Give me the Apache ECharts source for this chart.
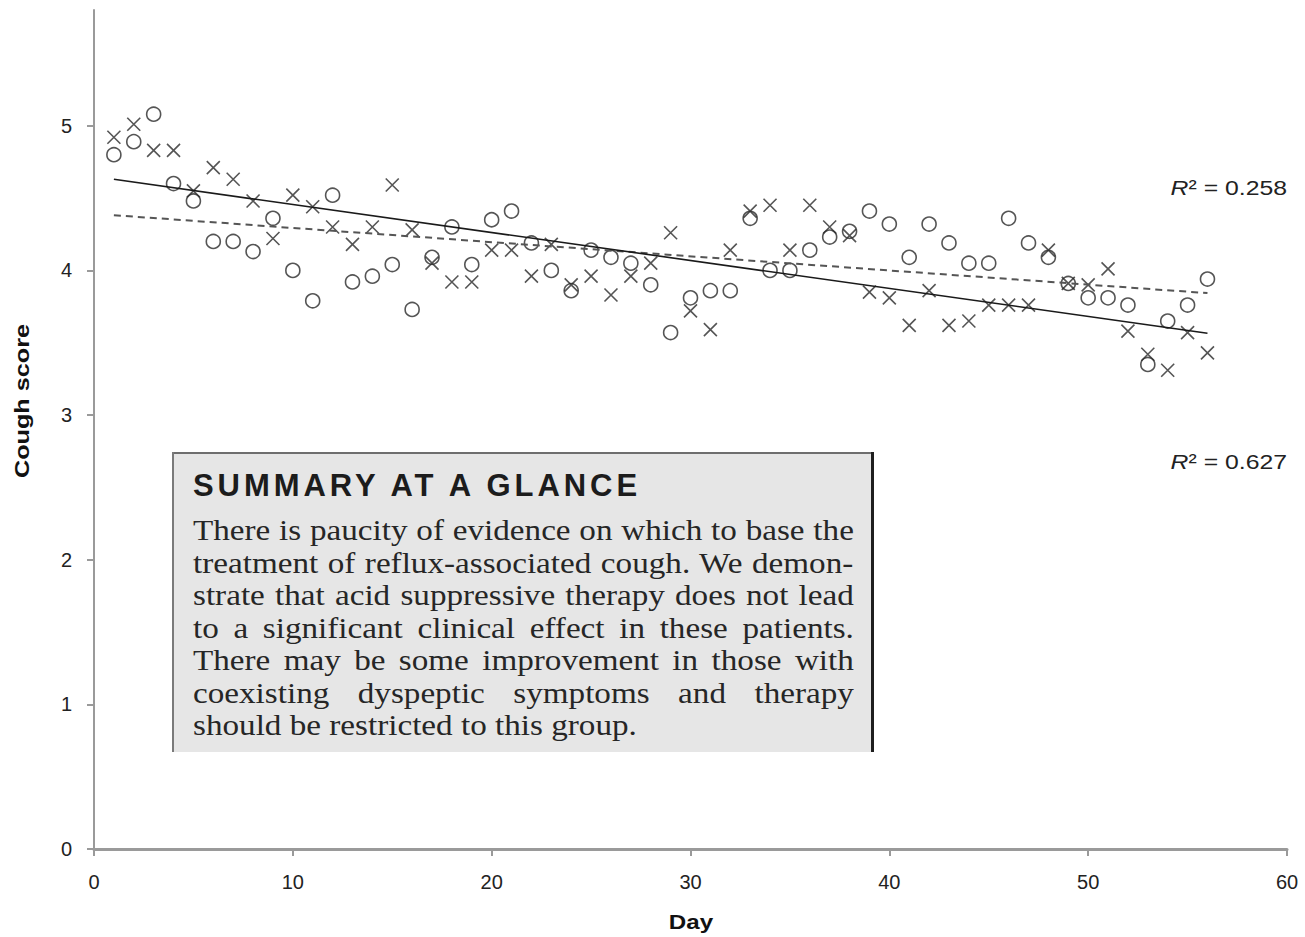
<!DOCTYPE html>
<html>
<head>
<meta charset="utf-8">
<title>Cough score by day</title>
<script src="https://cdn.jsdelivr.net/npm/echarts@6/dist/echarts.min.js"></script>
<style>
  html, body { margin: 0; padding: 0; background: #ffffff; }
  #chart { width: 1305px; height: 937px; }
</style>
</head>
<body>
<div id="chart"></div>
<script>
// Study days
const days = [1, 2, 3, 4, 5, 6, 7, 8, 9, 10, 11, 12, 13, 14, 15, 16, 17, 18, 19, 20,
  21, 22, 23, 24, 25, 26, 27, 28, 29, 30, 31, 32, 33, 34, 35, 36, 37, 38, 39, 40,
  41, 42, 43, 44, 45, 46, 47, 48, 49, 50, 51, 52, 53, 54, 55, 56];

// Mean daily cough score, group plotted with open circles
const scoreCircles = [4.80, 4.89, 5.08, 4.60, 4.48, 4.20, 4.20, 4.13, 4.36, 4.00,
  3.79, 4.52, 3.92, 3.96, 4.04, 3.73, 4.09, 4.30, 4.04, 4.35,
  4.41, 4.19, 4.00, 3.86, 4.14, 4.09, 4.05, 3.90, 3.57, 3.81,
  3.86, 3.86, 4.36, 4.00, 4.00, 4.14, 4.23, 4.27, 4.41, 4.32,
  4.09, 4.32, 4.19, 4.05, 4.05, 4.36, 4.19, 4.09, 3.91, 3.81,
  3.81, 3.76, 3.35, 3.65, 3.76, 3.94];

// Mean daily cough score, group plotted with crosses
const scoreCrosses = [4.92, 5.01, 4.83, 4.83, 4.55, 4.71, 4.63, 4.48, 4.22, 4.52,
  4.44, 4.30, 4.18, 4.30, 4.59, 4.28, 4.05, 3.92, 3.92, 4.14,
  4.14, 3.96, 4.18, 3.90, 3.96, 3.83, 3.96, 4.05, 4.26, 3.72,
  3.59, 4.14, 4.41, 4.45, 4.14, 4.45, 4.30, 4.24, 3.85, 3.81,
  3.62, 3.86, 3.62, 3.65, 3.76, 3.76, 3.76, 4.14, 3.91, 3.90,
  4.01, 3.58, 3.42, 3.31, 3.57, 3.43];

const yTicks = [0, 1, 2, 3, 4, 5];
const xTicks = [0, 10, 20, 30, 40, 50, 60];

const rSquaredCircles = '0.258';
const rSquaredCrosses = '0.627';

const summaryTitle = 'SUMMARY AT A GLANCE';
const summaryLines = [
  'There is paucity of evidence on which to base the',
  'treatment of reflux-associated cough. We demon-',
  'strate that acid suppressive therapy does not lead',
  'to a significant clinical effect in these patients.',
  'There may be some improvement in those with',
  'coexisting dyspeptic symptoms and therapy',
  'should be restricted to this group.'
];

// Least-squares linear trend over the observed days
function linearTrend(xs, ys) {
  const n = xs.length;
  let sx = 0, sy = 0, sxx = 0, sxy = 0;
  for (let i = 0; i < n; i++) {
    sx += xs[i]; sy += ys[i]; sxx += xs[i] * xs[i]; sxy += xs[i] * ys[i];
  }
  const slope = (n * sxy - sx * sy) / (n * sxx - sx * sx);
  const intercept = (sy - slope * sx) / n;
  const x0 = xs[0], x1 = xs[n - 1];
  return [[x0, intercept + slope * x0], [x1, intercept + slope * x1]];
}

const pairs = (ys) => days.map((d, i) => [d, ys[i]]);

// Box layout
const BOX = { left: 172, top: 452, right: 874, bottom: 752 };
const TEXT_LEFT = 193, TEXT_RIGHT = 854, LAST_LINE_RIGHT = 637;
const BODY_FONT = 30, BODY_FAMILY = '"Liberation Serif", "Times New Roman", serif';
const TITLE_FONT = 31, TITLE_FAMILY = '"Liberation Sans", Arial, sans-serif';
const TITLE_RIGHT = 641;
const FIRST_BASELINE = 540, LINE_STEP = 32.5;
const SANS = '"Liberation Sans", Arial, sans-serif';

// Text measurement for tracking / justification
const measureCtx = document.createElement('canvas').getContext('2d');
function textWidth(str, font) { measureCtx.font = font; return measureCtx.measureText(str).width; }

const titleFontCss = 'bold ' + TITLE_FONT + 'px ' + TITLE_FAMILY;
const bodyFontCss = BODY_FONT + 'px ' + BODY_FAMILY;
const titleTracking = (TITLE_RIGHT - TEXT_LEFT - textWidth(summaryTitle, titleFontCss)) / (summaryTitle.length - 1);
// horizontal set width of the body face
const bodyScaleX = (LAST_LINE_RIGHT - TEXT_LEFT) / textWidth(summaryLines[summaryLines.length - 1], bodyFontCss);
const wordSpacings = summaryLines.map((line, i) => {
  if (i === summaryLines.length - 1) return 0;
  const gaps = line.split(' ').length - 1;
  return gaps > 0 ? ((TEXT_RIGHT - TEXT_LEFT) / bodyScaleX - textWidth(line, bodyFontCss)) / gaps : 0;
});

function rLabel(value, y) {
  return { type: 'text', silent: true, x: 1287, y: y, scaleX: 1.18,
    style: { text: '{i|R}² = ' + value, font: '21px ' + SANS, fill: '#222',
      align: 'right', verticalAlign: 'middle',
      rich: { i: { font: 'italic 21px ' + SANS, fill: '#222' } } } };
}

const graphics = [
  { type: 'rect', silent: true, shape: { x: BOX.left, y: BOX.top, width: BOX.right - BOX.left, height: BOX.bottom - BOX.top },
    style: { fill: '#e6e6e6' } },
  { type: 'line', silent: true, shape: { x1: BOX.left, y1: BOX.top + 1, x2: BOX.right, y2: BOX.top + 1 },
    style: { stroke: '#6e6e6e', lineWidth: 2 } },
  { type: 'line', silent: true, shape: { x1: BOX.left + 1, y1: BOX.top, x2: BOX.left + 1, y2: BOX.bottom },
    style: { stroke: '#7a7a7a', lineWidth: 2 } },
  { type: 'line', silent: true, shape: { x1: BOX.right - 1.5, y1: BOX.top, x2: BOX.right - 1.5, y2: BOX.bottom },
    style: { stroke: '#1e1e1e', lineWidth: 3 } },
  { type: 'text', silent: true, x: TEXT_LEFT, y: 485,
    style: { text: summaryTitle, font: titleFontCss, fill: '#1c1c1c', align: 'left', verticalAlign: 'middle' } },
  // axis titles
  { type: 'text', silent: true, x: 22, y: 401, rotation: Math.PI / 2, scaleX: 1.2,
    style: { text: 'Cough score', font: 'bold 21px ' + SANS, fill: '#111', align: 'center', verticalAlign: 'middle' } },
  { type: 'text', silent: true, x: 691, y: 922, scaleX: 1.15,
    style: { text: 'Day', font: 'bold 21px ' + SANS, fill: '#111', align: 'center', verticalAlign: 'middle' } },
  rLabel(rSquaredCircles, 188),
  rLabel(rSquaredCrosses, 462)
];
summaryLines.forEach((line, i) => {
  graphics.push({ type: 'text', silent: true, x: TEXT_LEFT, y: FIRST_BASELINE + i * LINE_STEP - 0.33 * BODY_FONT,
    scaleX: bodyScaleX,
    style: { text: line, font: bodyFontCss, fill: '#262626', align: 'left', verticalAlign: 'middle' } });
});

const chart = echarts.init(document.getElementById('chart'), null, { renderer: 'svg' });

const option = {
  animation: false,
  backgroundColor: '#ffffff',
  grid: { left: 94, right: 18, top: 10, bottom: 88, containLabel: false, outerBoundsMode: 'none' },
  xAxis: {
    type: 'value', min: 0, max: 60, interval: 10,
    axisLine: { show: true, lineStyle: { color: '#9a9a9a', width: 3 } },
    axisTick: { show: true, length: 7, lineStyle: { color: '#9a9a9a', width: 2 } },
    axisLabel: { fontFamily: 'Liberation Sans', fontSize: 20, color: '#222', margin: 23, customValues: xTicks },
    splitLine: { show: false }
  },
  yAxis: {
    type: 'value', min: 0, max: 5.8, interval: 1,
    axisLine: { show: true, lineStyle: { color: '#9a9a9a', width: 2 } },
    axisTick: { show: true, length: 7, customValues: yTicks, lineStyle: { color: '#9a9a9a', width: 2 } },
    axisLabel: { fontFamily: 'Liberation Sans', fontSize: 20, color: '#222', margin: 22, customValues: yTicks },
    splitLine: { show: false }
  },
  series: [
    {
      name: 'Circles', type: 'scatter', silent: true, data: pairs(scoreCircles),
      symbol: 'circle', symbolSize: 14,
      itemStyle: { color: 'rgba(0,0,0,0)', borderColor: '#2a2a2a', borderWidth: 1.6 }
    },
    {
      name: 'Crosses', type: 'scatter', silent: true, data: pairs(scoreCrosses),
      symbol: 'path://M0,0L10,10M10,0L0,10', symbolSize: 13,
      itemStyle: { color: 'rgba(0,0,0,0)', borderColor: '#2a2a2a', borderWidth: 1.6 }
    },
    {
      name: 'Circles trend', type: 'line', silent: true, data: linearTrend(days, scoreCircles),
      showSymbol: false, symbol: 'none',
      lineStyle: { color: '#555555', width: 2, type: [7, 5] }
    },
    {
      name: 'Crosses trend', type: 'line', silent: true, data: linearTrend(days, scoreCrosses),
      showSymbol: false, symbol: 'none',
      lineStyle: { color: '#1a1a1a', width: 1.6 }
    }
  ],
  graphic: graphics
};

chart.setOption(option);

// Letter tracking for the box heading and justified body lines
function applyTextSpacing() {
  const nodes = document.querySelectorAll('#chart svg text');
  nodes.forEach((node) => {
    const s = node.textContent;
    if (s === summaryTitle) {
      node.style.letterSpacing = titleTracking.toFixed(2) + 'px';
    } else {
      const idx = summaryLines.indexOf(s);
      if (idx >= 0 && wordSpacings[idx] > 0) {
        node.style.wordSpacing = wordSpacings[idx].toFixed(2) + 'px';
      }
    }
  });
}
applyTextSpacing();
chart.on('finished', applyTextSpacing);
</script>
</body>
</html>
